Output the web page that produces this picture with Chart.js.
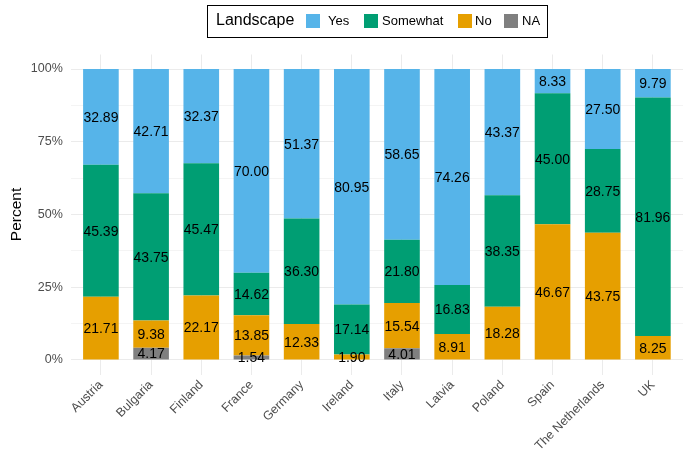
<!DOCTYPE html>
<html>
<head>
<meta charset="utf-8">
<script src="https://cdn.jsdelivr.net/npm/chart.js@4/dist/chart.umd.min.js"></script>
<style>
  html, body { margin: 0; padding: 0; background: #fff; }
  #wrap { position: relative; width: 683px; height: 462px; font-family: 'Liberation Sans', Arial, sans-serif; }
  #legend { position: absolute; left: 207px; top: 5px; width: 341px; height: 33px; border: 1.5px solid #000; box-sizing: border-box; }
  #legend span { position: absolute; white-space: nowrap; color: #000; }
  #legend .key { width: 14px; height: 14px; top: 8px; }
  #legend .lab { font-size: 13px; top: 7px; }
  #legend .ttl { font-size: 16px; top: 5px; left: 8px; }
</style>
</head>
<body>
<div id="wrap">
  <canvas id="landscapeChart" width="683" height="462"></canvas>
  <div id="legend"></div>
</div>
<script>
// Share of answers per country, stacked from bottom: NA, No, Somewhat, Yes
const countries = ['Austria', 'Bulgaria', 'Finland', 'France', 'Germany', 'Ireland',
    'Italy', 'Latvia', 'Poland', 'Spain', 'The Netherlands', 'UK'];
const naValues       = [0, 4.17, 0, 1.54, 0, 0, 4.01, 0, 0, 0, 0, 0];
const noValues       = [21.71, 9.38, 22.17, 13.85, 12.33, 1.90, 15.54, 8.91, 18.28, 46.67, 43.75, 8.25];
const somewhatValues = [45.39, 43.75, 45.47, 14.62, 36.30, 17.14, 21.80, 16.83, 38.35, 45.00, 28.75, 81.96];
const yesValues      = [32.89, 42.71, 32.37, 70.00, 51.37, 80.95, 58.65, 74.26, 43.37, 8.33, 27.50, 9.79];
const yTicks = [0, 12.5, 25, 37.5, 50, 62.5, 75, 87.5, 100];

const series = [
    { label: 'NA', data: naValues, color: '#7F7F7F' },
    { label: 'No', data: noValues, color: '#E69F00' },
    { label: 'Somewhat', data: somewhatValues, color: '#009E73' },
    { label: 'Yes', data: yesValues, color: '#56B4E9' }
];

const FONT = "'Liberation Sans', Arial, sans-serif";

// HTML legend box with title
const legendItems = [
    { name: 'Yes', color: '#56B4E9', key: 98, text: 120 },
    { name: 'Somewhat', color: '#009E73', key: 156, text: 174 },
    { name: 'No', color: '#E69F00', key: 250, text: 267 },
    { name: 'NA', color: '#7F7F7F', key: 296, text: 314 }
];
const legend = document.getElementById('legend');
legend.innerHTML = '<span class="ttl">Landscape</span>' + legendItems.map(it =>
    `<span class="key" style="left:${it.key}px;background:${it.color}"></span>` +
    `<span class="lab" style="left:${it.text}px">${it.name}</span>`).join('');

// Writes each segment's value in the middle of its bar piece
const segmentLabels = {
    id: 'segmentLabels',
    afterDatasetsDraw(chart) {
        const ctx = chart.ctx;
        ctx.save();
        ctx.font = '14px ' + FONT;
        ctx.fillStyle = '#000';
        ctx.textAlign = 'center';
        ctx.textBaseline = 'middle';
        chart.data.datasets.forEach((ds, di) => {
            chart.getDatasetMeta(di).data.forEach((bar, i) => {
                const v = ds.data[i].y;
                if (!v) return;
                ctx.fillText(v.toFixed(2), bar.x, (bar.y + bar.base) / 2 + 1);
            });
        });
        ctx.restore();
    }
};

new Chart(document.getElementById('landscapeChart'), {
    type: 'bar',
    data: {
        datasets: series.map(s => ({
            label: s.label,
            data: s.data.map((v, i) => ({ x: i, y: v })),
            backgroundColor: s.color,
            borderWidth: 0,
            barPercentage: 0.71,
            categoryPercentage: 1
        }))
    },
    options: {
        responsive: false,
        animation: false,
        layout: { padding: { top: 54.5, right: 0, bottom: 0, left: 0 } },
        plugins: { legend: { display: false }, tooltip: { enabled: false } },
        scales: {
            x: {
                type: 'linear',
                stacked: true,
                offset: false,
                min: -0.6,
                max: 11.6,
                afterBuildTicks: s => { s.ticks = countries.map((_, i) => ({ value: i })); },
                afterFit: s => { s.height = 87.5; },
                border: { display: false },
                grid: { color: '#EBEBEB', lineWidth: 1, drawTicks: false, offset: false },
                ticks: {
                    autoSkip: false,
                    minRotation: 45,
                    maxRotation: 45,
                    padding: 3,
                    color: '#4D4D4D',
                    font: { family: FONT, size: 12.5 },
                    callback: v => countries[v]
                }
            },
            y: {
                stacked: true,
                min: -5,
                max: 105,
                afterBuildTicks: s => { s.ticks = yTicks.map(v => ({ value: v })); },
                afterFit: s => { s.width = 70.8; },
                border: { display: false },
                grid: {
                    drawTicks: false,
                    color: c => (c.tick && c.tick.value % 25 === 0) ? '#EBEBEB' : '#F4F4F4',
                    lineWidth: 1
                },
                ticks: {
                    padding: 8,
                    color: '#4D4D4D',
                    font: { family: FONT, size: 12.5 },
                    callback: v => (v % 25 === 0 ? v + '%' : '')
                },
                title: {
                    display: true,
                    text: 'Percent',
                    color: '#000',
                    font: { family: FONT, size: 15.5 },
                    padding: { top: 7, bottom: 0 }
                }
            }
        }
    },
    plugins: [segmentLabels]
});
</script>
</body>
</html>
